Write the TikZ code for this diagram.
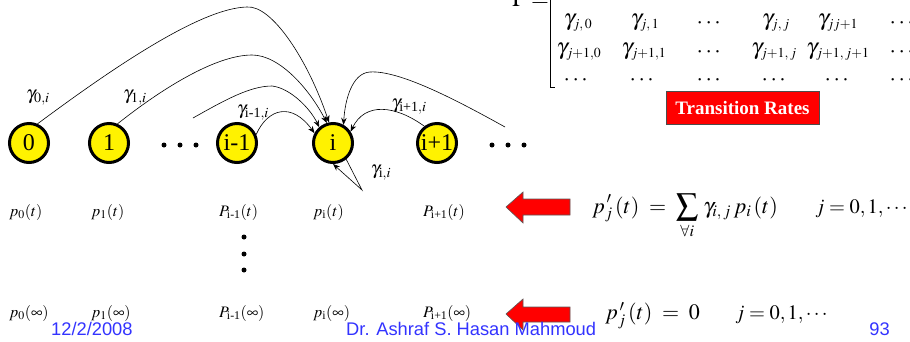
\documentclass[tikz,border=0pt]{standalone}
\usepackage{amsmath}
\usepackage{mathptmx}
\usepackage[no-math]{fontspec}
\setmainfont{Liberation Serif}
\newfontfamily\arialf{Liberation Sans}
\usetikzlibrary{arrows.meta}
\definecolor{footblue}{RGB}{51,51,255}
\newcommand{\gs}[1]{\gamma_{\scriptscriptstyle #1}}
\begin{document}
\begin{tikzpicture}[x=1pt,y=-1pt,
  state/.style={circle, draw=black, line width=3pt, fill=yellow, minimum size=39pt, inner sep=0pt, font=\fontsize{24}{27}\selectfont},
  trans/.style={-{Stealth[length=7pt,width=5.5pt]}, line width=0.6pt},
  lbl/.style={font=\fontsize{19}{21}\selectfont, inner sep=0pt},
  prob/.style={font=\fontsize{16}{18}\selectfont, anchor=base west, inner sep=0pt},
  mat/.style={font=\fontsize{23}{25}\selectfont, inner sep=0pt},
  eqn/.style={font=\fontsize{22}{25}\selectfont, anchor=base west, inner sep=0pt},
  eqnr/.style={font=\fontsize{20.5}{24}\selectfont, anchor=base west, inner sep=0pt},
  foot/.style={font=\arialf\fontsize{18.3}{20}\selectfont, text=footblue, inner sep=0pt},
  dot/.style={circle, fill=black, inner sep=0pt, minimum size=5pt},
  bigarrow/.style={fill=red, draw=black!65, line width=0.6pt}]
\useasboundingbox (0,0) rectangle (910,341);
\fill[white] (0,0) rectangle (910,341);

% states
\node[state] (n0) at (29,143) {0};
\node[state] (n1) at (109,143) {1};
\node[state] (nim1) at (237,143) {i-1};
\node[state] (ni) at (333,143) {i};
\node[state] (nip1) at (437,143) {i+1};

% dots
\node[dot] (d1) at (164,145) {};
\node[dot] (d2) at (180,145) {};
\node[dot] (d3) at (196,145) {};
\node[dot] (d4) at (492,145) {};
\node[dot] (d5) at (508,145) {};
\node[dot] (d6) at (524,145) {};

% free ends
\coordinate (c3) at (193,118);
\coordinate (c5) at (505,127);
\coordinate (apex) at (362,190);

% transitions
\draw[trans] (n0.66) .. controls (110,70) and (200,8) .. (247,7) .. controls (272,5) and (308,60) .. (ni.101);
\draw[trans] (n1.66) .. controls (160,90) and (215,55) .. (252,55) .. controls (280,55) and (310,90) .. (ni.107);
\draw[trans] (c3) .. controls (225,100) and (250,86) .. (272,86) .. controls (290,88) and (310,108) .. (ni.131);
\draw[trans] (nim1.24) .. controls (268,108) and (292,102) .. (ni.152);
\draw[trans] (c5) .. controls (460,102) and (400,70) .. (370,72) .. controls (352,73) and (345,100) .. (ni.60);
\draw[trans] (nip1.127) .. controls (395,105) and (365,102) .. (ni.33);
\draw[trans] (ni.-51) -- (apex) -- (ni.-90);

% labels
\node[lbl] (g0) at (38,98) {$\gamma_{0,i}$};
\node[lbl] (g1) at (135,98) {$\gamma_{1,i}$};
\node[lbl] (gim1) at (253,113) {$\gamma_{\text{i-1},i}$};
\node[lbl] (gip1) at (409,107) {$\gamma_{\text{i+1},i}$};
\node[lbl] (gii) at (381,173) {$\gamma_{\text{i},i}$};

% probabilities
\node[prob] (p0t) at (9,216) {$p_0(t)$};
\node[prob] (p1t) at (91,216) {$p_1(t)$};
\node[prob] (pim1t) at (219,216) {$P_{\text{i-1}}(t)$};
\node[prob] (pit) at (313,216) {$p_{\text{i}}(t)$};
\node[prob] (pip1t) at (423,216) {$P_{\text{i+1}}(t)$};

\node[dot] (v1) at (244,237) {};
\node[dot] (v2) at (244,254) {};
\node[dot] (v3) at (244,270) {};

\node[prob] (p0i) at (9,317) {$p_0(\infty)$};
\node[prob] (p1i) at (91,317) {$p_1(\infty)$};
\node[prob] (pim1i) at (219,317) {$P_{\text{i-1}}(\infty)$};
\node[prob] (pii) at (313,317) {$p_{\text{i}}(\infty)$};
\node[prob] (pip1i) at (423,317) {$P_{\text{i+1}}(\infty)$};

% matrix
\node[mat, anchor=base west] (gam) at (512,6) {$\Gamma =$};
\draw[line width=1pt] (550,-2) -- (550,87) -- (555,87);
\node[mat] (m11) at (578,23) {$\gs{j,\,0}$};
\node[mat] (m12) at (645,23) {$\gs{j,\,1}$};
\node[mat] (m13) at (710,23) {$\cdots$};
\node[mat] (m14) at (776,23) {$\gs{j,\,j}$};
\node[mat] (m15) at (838,23) {$\gs{jj+1}$};
\node[mat] (m16) at (903,23) {$\cdots$};
\node[mat] (m21) at (579,52) {$\gs{j+1,0}$};
\node[mat] (m22) at (644,52) {$\gs{j+1,1}$};
\node[mat] (m23) at (710,52) {$\cdots$};
\node[mat] (m24) at (774,52) {$\gs{j+1,\,j}$};
\node[mat] (m25) at (838,52) {$\gs{j+1,\,j+1}$};
\node[mat] (m26) at (903,52) {$\cdots$};
\node[mat] (m31) at (577,80) {$\cdots$};
\node[mat] (m32) at (643,80) {$\cdots$};
\node[mat] (m33) at (710,80) {$\cdots$};
\node[mat] (m34) at (775,80) {$\cdots$};
\node[mat] (m35) at (838,80) {$\cdots$};
\node[mat] (m36) at (903,80) {$\cdots$};

\node[draw=black!70, line width=0.8pt, fill=red, text=white, font=\bfseries\fontsize{19}{21}\selectfont, minimum width=153pt, minimum height=33pt, inner sep=0pt] (tr) at (742.5,107.5) {Transition Rates};

% big arrows
\draw[bigarrow] (506,207) -- (523,192) -- (523,199) -- (570,199) -- (570,215) -- (523,215) -- (523,223) -- cycle;
\draw[bigarrow] (506,314) -- (523,299) -- (523,307) -- (570,307) -- (570,322) -- (523,322) -- (523,330) -- cycle;

% equations
\node[eqn] (eq1) at (592,213) {$\displaystyle p_j^{\,\prime}\,(t) \;=\; \sum_{\forall i}\,\gamma_{i,\,j}\,p_i\,(t)$};
\node[eqnr] (eq1b) at (815,213) {$j = 0,1,\cdots$};
\node[eqn] (eq2) at (605,319) {$p_j^{\,\prime}\,(t) \;=\; 0$};
\node[eqnr] (eq2b) at (735,319) {$j = 0,1,\cdots$};

% footer
\node[foot, anchor=base west] (date) at (51,335) {12/2/2008};
\node[foot, anchor=base west] (author) at (346,335) {Dr. Ashraf S. Hasan Mahmoud};
\node[foot, anchor=base east] (page) at (890,335) {93};
\end{tikzpicture}
\end{document}
